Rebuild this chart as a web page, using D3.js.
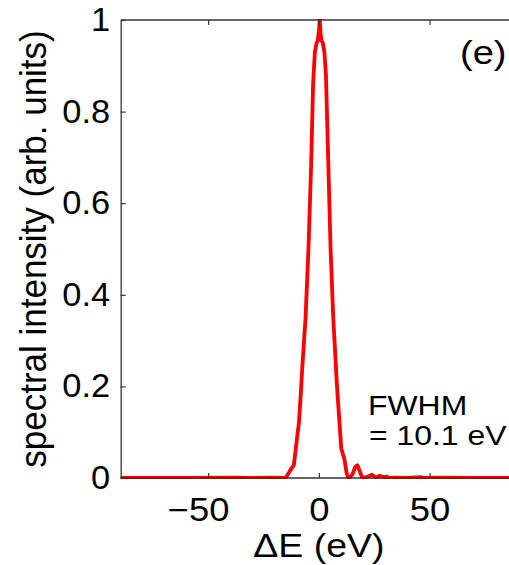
<!DOCTYPE html>
<html>
<head>
<meta charset="utf-8">
<script src="https://cdn.jsdelivr.net/npm/d3@7"></script>
<style>
  html, body { margin: 0; padding: 0; background: #fff; }
  svg { display: block; }
  text { font-family: "Liberation Sans", Arial, Helvetica, sans-serif; fill: #000; }
</style>
</head>
<body>
<svg id="chart" width="509" height="565"></svg>
<script>
// Spectrum: energy offset (eV) and normalised intensity
const energy = [-90, -60, -40, -30, -20, -16, -15, -13.5, -12.5, -11.3, -10.5, -9.8, -9.0, -8.2, -7.5,
  -6.0, -4.7, -3.5, -2.6, -1.8, -1.0, -0.5, 0.0, 0.4, 0.8, 1.2, 1.8, 2.5, 3.2, 4.2, 5.3, 6.5, 8.2,
  10.1, 11.0, 11.6, 12.5, 13.3, 14.2, 15.2, 16.4, 17.4, 18.4, 19.5, 21, 22.5, 24, 25, 26, 27.5,
  29, 30.5, 32, 35, 40, 46, 48, 55, 70, 100];
const intensity = [0, 0, 0.001, 0, 0.001, 0, 0, 0.012, 0.02, 0.028, 0.06, 0.09, 0.12, 0.18, 0.24,
  0.35, 0.5, 0.68, 0.86, 0.93, 0.95, 0.955, 0.975, 1.0, 0.97, 0.955, 0.95, 0.93, 0.88, 0.7, 0.5, 0.35, 0.2,
  0.065, 0.05, 0.04, 0.012, 0, 0.002, 0.008, 0.024, 0.028, 0.016, 0.002, 0.001, 0.004, 0.007, 0.003, 0.001, 0.005,
  0.002, 0.003, 0, 0.001, 0, 0.002, 0, 0.001, 0, 0];

const xTicks = [-50, 0, 50];
const yTicks = [0, 0.2, 0.4, 0.6, 0.8, 1];
const yTickLabels = ["0", "0.2", "0.4", "0.6", "0.8", "1"];

const svg = d3.select("#chart");
const mLeft = 120.7, mTop = 20, mBottom = 478;
const pxPerEv = 2.214;
const xMin = -89.5, xMax = 100;
const mRight = mLeft + (xMax - xMin) * pxPerEv;

const x = d3.scaleLinear().domain([xMin, xMax]).range([mLeft, mRight]);
const y = d3.scaleLinear().domain([0, 1]).range([mBottom, mTop]);

// text is set slightly wide
const stretch = 1.12;
const tickStretch = 1.06;
const tickFont = 32.5;

svg.append("defs").append("clipPath").attr("id", "plotClip")
  .append("rect").attr("x", mLeft).attr("y", mTop - 1).attr("width", mRight - mLeft).attr("height", mBottom - mTop + 2);

// data line
const pts = energy.map((e, i) => [e, intensity[i]]);
svg.append("path")
  .datum(pts)
  .attr("clip-path", "url(#plotClip)")
  .attr("fill", "none")
  .attr("stroke", "#ff0000")
  .attr("stroke-width", 3.8)
  .attr("stroke-linejoin", "round")
  .attr("d", d3.line().x(d => x(d[0])).y(d => y(d[1])));

// axis box with inward ticks
const axisColor = "#333";
const xb = svg.append("g").attr("transform", `translate(0,${mBottom})`)
  .call(d3.axisBottom(x).tickValues(xTicks).tickSizeInner(-5).tickSizeOuter(0)
    .tickFormat(d => d < 0 ? "\u2212" + Math.abs(d) : d).tickPadding(20));
const xt = svg.append("g").attr("transform", `translate(0,${mTop})`)
  .call(d3.axisTop(x).tickValues(xTicks).tickSizeInner(-5).tickSizeOuter(0).tickFormat(""));
const yl = svg.append("g").attr("transform", `translate(${mLeft},0)`)
  .call(d3.axisLeft(y).tickValues(yTicks).tickSizeInner(-5).tickSizeOuter(0)
    .tickFormat((d, i) => yTickLabels[i]).tickPadding(10));

[xb, xt, yl].forEach(g => {
  g.select(".domain").attr("stroke", axisColor).attr("stroke-width", 1.3);
  g.selectAll(".tick line").attr("stroke", axisColor).attr("stroke-width", 1.2);
  g.selectAll(".tick text").attr("font-size", tickFont)
    .attr("font-family", "'Liberation Sans', Arial, sans-serif").attr("fill", "#000");
});
xb.selectAll(".tick text").attr("transform", `scale(${stretch},1)`);
yl.selectAll(".tick text").attr("transform", `scale(${tickStretch},1)`);
// the minus sign hangs to the left of the centred digits
xb.selectAll(".tick text").filter(d => d < 0).attr("dx", -9);
xb.select(".domain").attr("d", `M${mLeft},0H${mRight}`);
xt.select(".domain").attr("d", `M${mLeft},0H${mRight}`);

function label(px, py, size, str, anchor) {
  return svg.append("text")
    .attr("transform", `translate(${px},${py}) scale(${stretch},1)`)
    .attr("text-anchor", anchor || "start")
    .attr("font-size", size)
    .text(str);
}

// axis titles
label(x(0), 557, 33.5, "\u0394E (eV)", "middle");

svg.append("text")
  .attr("transform", `translate(45.5,${(mTop + mBottom) / 2}) scale(1.06,1) rotate(-90)`)
  .attr("text-anchor", "middle")
  .attr("font-size", 35)
  .text("spectral intensity (arb. units)");

// annotations
label(460, 64, 34, "(e)");
label(368, 415, 28.5, "FWHM");
label(369, 445, 28.5, "= 10.1 eV");
</script>
</body>
</html>
